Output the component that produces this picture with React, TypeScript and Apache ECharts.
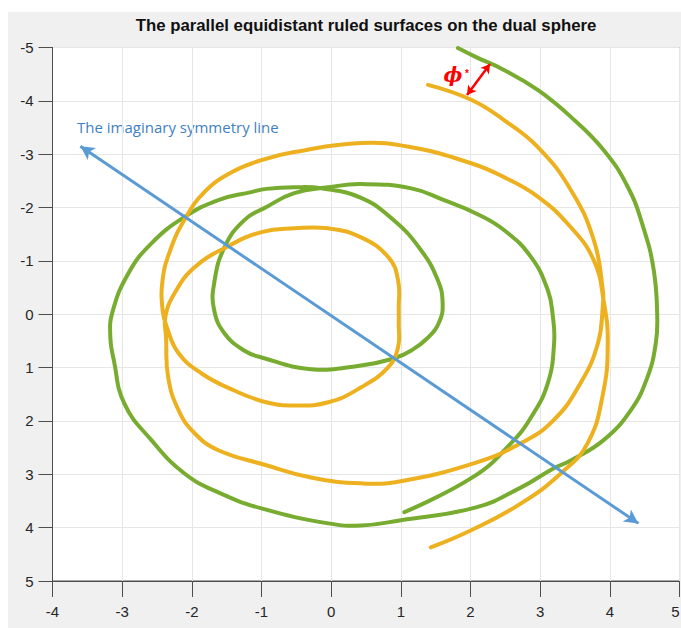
import React, { useEffect, useRef } from "react";
import * as echarts from "echarts";

const chartTitle = "The parallel equidistant ruled surfaces on the dual sphere";
const symmetryLabel = "The imaginary symmetry line";
const phiLabel = "ϕ";
const phiStar = "*";

const xRange = [-4, 5];
const yRange = [-5, 5];

// Orange (yellow) spiral, in drawing order
const orangeCurve: [number, number][] = [
  [1.43, 4.37], [2.01, 4.05], [2.72, 3.55], [3.30, 2.98], [3.68, 2.42],
  [3.90, 1.50], [3.97, 0.54], [3.91, -0.26], [3.77, -1.01], [3.44, -1.63],
  [2.97, -2.20], [2.48, -2.57], [2.01, -2.83], [1.15, -3.13], [0.43, -3.21],
  [-0.53, -3.04], [-1.00, -2.89], [-1.43, -2.66], [-1.82, -2.29], [-2.11, -1.76],
  [-2.31, -1.20], [-2.42, -0.64], [-2.42, -0.08], [-2.36, 0.24], [-2.19, 0.73],
  [-1.86, 1.11], [-1.39, 1.43], [-0.93, 1.65], [-0.53, 1.71], [-0.04, 1.65],
  [0.43, 1.37], [0.82, 0.99], [0.96, 0.62], [0.97, 0.17], [0.97, -0.08],
  [0.96, -0.64], [0.82, -1.07], [0.43, -1.44], [-0.04, -1.61], [-0.53, -1.61],
  [-1.00, -1.54], [-1.50, -1.26], [-1.96, -0.88], [-2.25, -0.39], [-2.38, 0.05],
  [-2.37, 0.43], [-2.34, 1.18], [-2.19, 1.80], [-1.96, 2.23], [-1.62, 2.55],
  [-0.93, 2.83], [-0.29, 3.06], [0.43, 3.17], [1.00, 3.13], [2.08, 2.78],
  [2.72, 2.42], [3.19, 1.99], [3.58, 1.29], [3.83, 0.54], [3.90, -0.17],
  [3.90, -0.45], [3.77, -1.39], [3.44, -2.33], [2.97, -3.13], [2.48, -3.64],
  [2.01, -4.02], [1.39, -4.30],
];

// Green spiral, in drawing order
const greenCurve: [number, number][] = [
  [1.82, -4.99], [2.08, -4.82], [2.48, -4.58], [2.97, -4.20], [3.44, -3.70],
  [3.91, -3.08], [4.26, -2.38], [4.48, -1.63], [4.63, -0.83], [4.68, 0.02],
  [4.66, 0.54], [4.54, 1.18], [4.30, 1.80], [3.91, 2.36], [3.44, 2.74],
  [3.19, 2.89], [2.72, 3.25], [2.08, 3.62], [1.00, 3.86], [0.43, 3.96],
  [-0.04, 3.92], [-1.00, 3.64], [-1.62, 3.34], [-2.11, 2.98], [-2.58, 2.36],
  [-2.97, 1.67], [-3.12, 0.86], [-3.17, 0.43], [-3.14, -0.04], [-2.91, -0.77],
  [-2.58, -1.33], [-2.11, -1.82], [-1.62, -2.14], [-1.15, -2.29], [-0.93, -2.35],
  [-0.53, -2.38], [-0.14, -2.36], [0.43, -2.18], [0.90, -1.76], [1.29, -1.20],
  [1.53, -0.64], [1.60, -0.21], [1.55, 0.15], [1.38, 0.45], [1.15, 0.68],
  [0.90, 0.83], [0.43, 0.96], [-0.29, 1.03], [-1.00, 0.81], [-1.25, 0.68],
  [-1.53, 0.36], [-1.68, -0.08], [-1.68, -0.58], [-1.53, -1.26], [-1.25, -1.76],
  [-0.93, -2.01], [-0.53, -2.27], [-0.04, -2.38], [0.43, -2.44], [1.15, -2.36],
  [1.62, -2.14], [2.08, -1.89], [2.48, -1.58], [2.87, -1.07], [3.11, -0.45],
  [3.18, 0.02], [3.20, 0.54], [3.11, 1.29], [2.87, 1.93], [2.58, 2.42],
  [2.05, 3.04], [1.05, 3.71],
];

const symmetryLine: [number, number][] = [[-3.60, -3.15], [4.41, 3.92]];
const phiArrow: [number, number][] = [[1.95, -4.11], [2.28, -4.69]];

const ORANGE = "#edb120";
const GREEN = "#77ac30";
const BLUE = "#5b9bd5";
const RED = "#ff0000";
const AXIS = "#4d4d4d";
const TEXT = "#262626";

function curveSeries(name: string, points: [number, number][], color: string, z: number) {
  return {
    type: "custom",
    name,
    data: points,
    encode: { x: 0, y: 1 },
    silent: true,
    z,
    renderItem: (params: any, api: any) => {
      if (params.dataIndex !== 0) return null;
      const pts = points.map((p) => api.coord(p));
      return {
        type: "polyline",
        shape: { points: pts, smooth: 0.45 },
        style: {
          stroke: color,
          lineWidth: 4,
          fill: "none",
          lineCap: "round",
          lineJoin: "round",
        },
        silent: true,
      };
    },
  };
}

export default function App() {
  const ref = useRef<HTMLDivElement>(null);
  useEffect(() => {
    if (!ref.current) return;
    const chart = echarts.init(ref.current, undefined, { renderer: "svg" });
    const font = "'Liberation Sans', Arial, sans-serif";
    chart.setOption({
      animation: false,
      backgroundColor: "#f0f0f0",
      grid: {
        left: 44.5,
        right: 1.5,
        top: 35.5,
        bottom: 47,
        show: true,
        backgroundColor: "#ffffff",
        borderColor: AXIS,
        borderWidth: 1,
        containLabel: false,
        outerBoundsMode: "none",
      },
      xAxis: {
        type: "value",
        min: xRange[0],
        max: xRange[1],
        interval: 1,
        axisLine: { show: true, onZero: false, lineStyle: { color: AXIS, width: 1 } },
        axisTick: { show: true, inside: false, length: 16, lineStyle: { color: AXIS } },
        axisLabel: {
          color: TEXT,
          fontSize: 15,
          fontFamily: font,
          margin: 23,
          showMinLabel: true,
          showMaxLabel: true,
          alignMaxLabel: "right",
        },
        splitLine: { show: true, lineStyle: { color: "#e6e6e6", width: 1 } },
      },
      yAxis: {
        type: "value",
        inverse: true,
        min: yRange[0],
        max: yRange[1],
        interval: 1,
        axisLine: { show: true, onZero: false, lineStyle: { color: AXIS, width: 1 } },
        axisTick: { show: true, inside: false, length: 14, lineStyle: { color: AXIS } },
        axisLabel: {
          color: TEXT,
          fontSize: 15,
          fontFamily: font,
          margin: 19,
          showMinLabel: true,
          showMaxLabel: true,
        },
        splitLine: { show: true, lineStyle: { color: "#e6e6e6", width: 1 } },
      },
      series: [
        curveSeries("green", greenCurve, GREEN, 2),
        curveSeries("orange", orangeCurve, ORANGE, 3),
        {
          type: "line",
          name: "symmetry",
          data: [],
          silent: true,
          z: 4,
          markLine: {
            silent: true,
            animation: false,
            symbol: ["arrow", "arrow"],
            symbolSize: [11, 14],
            label: { show: false },
            lineStyle: { color: BLUE, width: 3, type: "solid" },
            data: [[{ coord: symmetryLine[0] }, { coord: symmetryLine[1] }]],
          },
        },
        {
          type: "line",
          name: "phi",
          data: [],
          silent: true,
          z: 5,
          markLine: {
            silent: true,
            animation: false,
            symbol: ["arrow", "arrow"],
            symbolSize: [8, 9],
            label: { show: false },
            lineStyle: { color: RED, width: 2.5, type: "solid" },
            data: [[{ coord: phiArrow[0] }, { coord: phiArrow[1] }]],
          },
        },
      ],
      graphic: [
        {
          type: "text",
          x: 358,
          y: 13,
          style: {
            text: chartTitle,
            fill: "#111",
            font: `bold 16.8px ${font}`,
            textAlign: "center",
            textVerticalAlign: "middle",
          },
        },
        {
          type: "text",
          x: 69,
          y: 115,
          style: {
            text: symmetryLabel,
            fill: "#3f7fbf",
            font: "15px 'Open Sans', sans-serif",
            textAlign: "left",
            textVerticalAlign: "middle",
          },
        },
        {
          type: "text",
          x: 445,
          y: 63,
          style: {
            text: phiLabel,
            fill: RED,
            font: `italic bold 20px 'DejaVu Serif', serif`,
            textAlign: "center",
            textVerticalAlign: "middle",
          },
        },
        {
          type: "text",
          x: 459,
          y: 61,
          style: {
            text: phiStar,
            fill: RED,
            font: `bold 10px ${font}`,
            textAlign: "center",
            textVerticalAlign: "middle",
          },
        },
      ],
    });
    return () => chart.dispose();
  }, []);
  return (
    <div
      style={{
        position: "absolute",
        left: 0,
        top: 0,
        width: 681,
        height: 628,
        background: "#ffffff",
      }}
    >
      <div
        ref={ref}
        style={{ position: "absolute", left: 8, top: 12, width: 673, height: 616 }}
      />
    </div>
  );
}
